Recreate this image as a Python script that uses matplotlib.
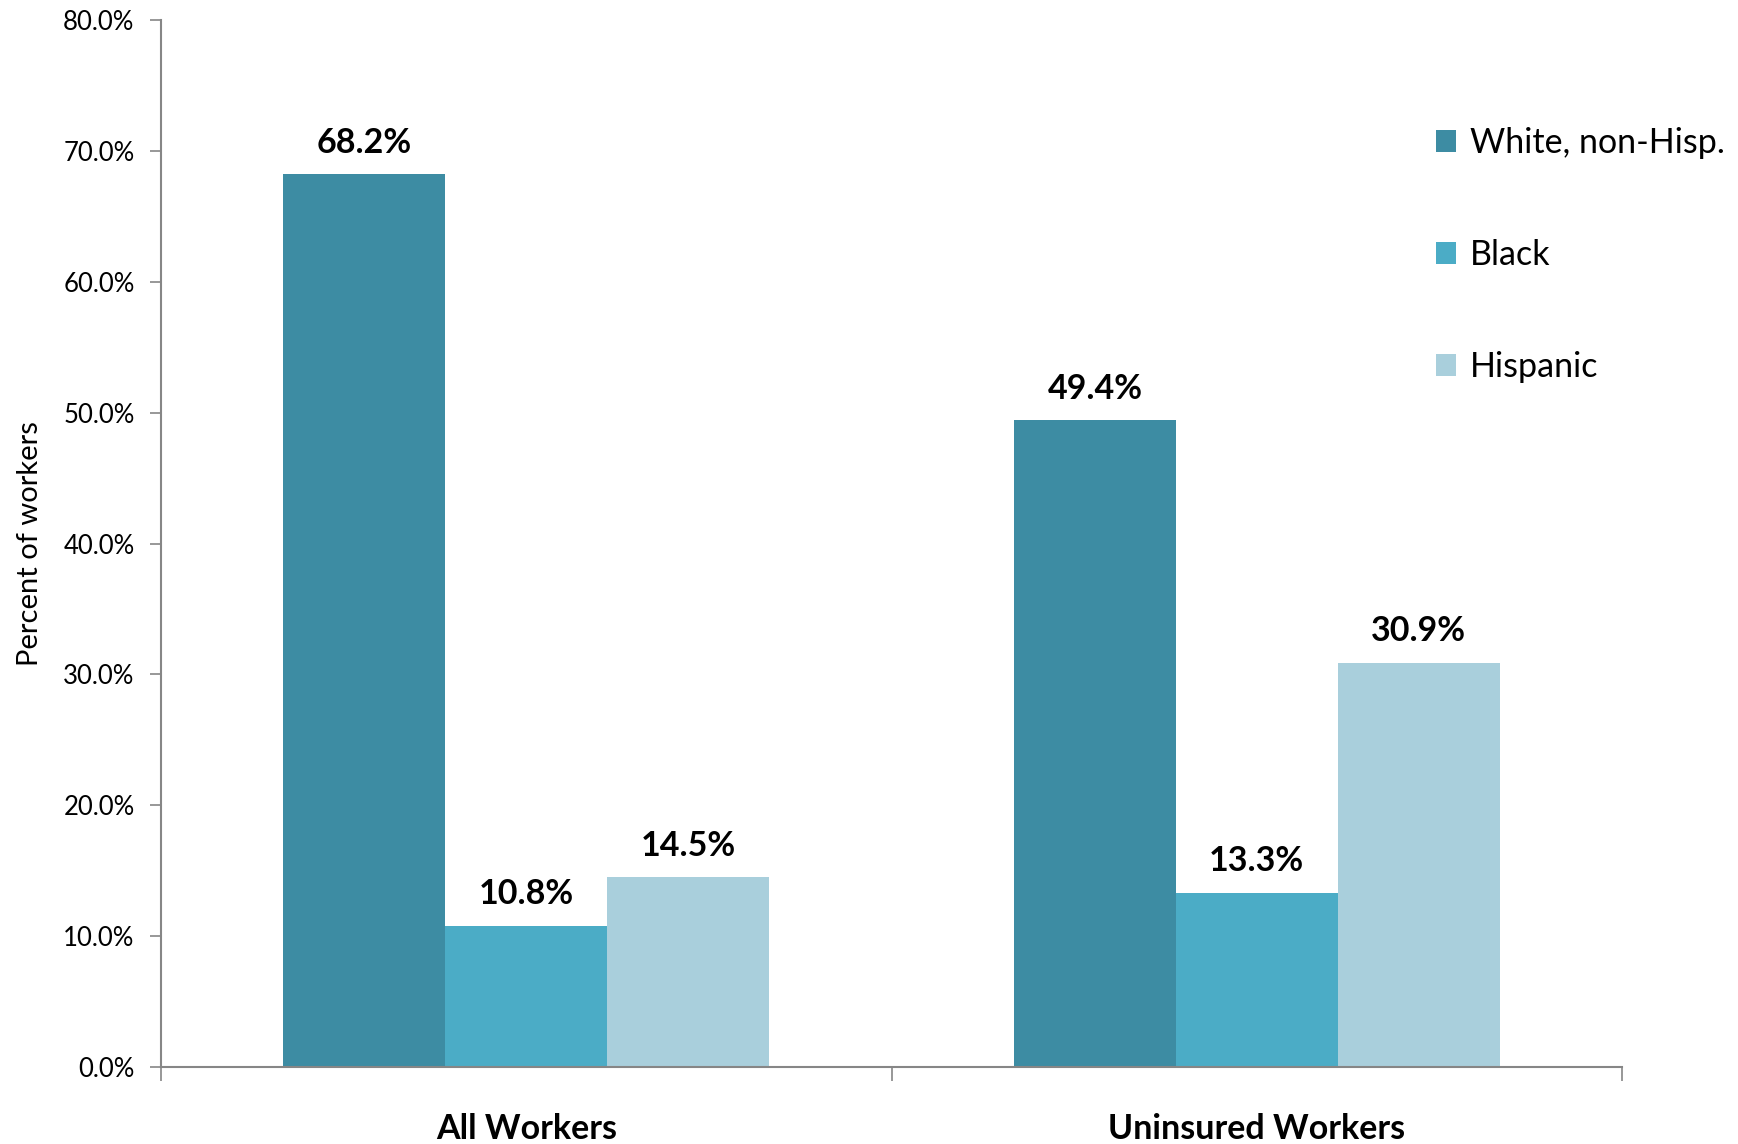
import matplotlib
matplotlib.use('Agg')
import matplotlib.pyplot as plt
import numpy as np
from matplotlib.ticker import FixedLocator, PercentFormatter

plt.rcParams['font.family'] = ['Lato', 'DejaVu Sans']

categories = ['All Workers', 'Uninsured Workers']
series = ['White, non-Hisp.', 'Black', 'Hispanic']
white = [68.2, 49.4]
black = [10.8, 13.3]
hispanic = [14.5, 30.9]
colors = ['#3D8CA3', '#4BACC6', '#A9CFDC']

fig = plt.figure(figsize=(17.38, 11.44), dpi=100)
ax = fig.add_axes([0.0926, 0.0673, 0.9333 - 0.0926, 0.9825 - 0.0673])

x = np.arange(len(categories))
w = 0.2216
for k, (vals, c, name) in enumerate(zip([white, black, hispanic], colors, series)):
    pos = x + (k - 1) * w
    bars = ax.bar(pos, vals, w, color=c, label=name)
    for xi, v in zip(pos, vals):
        ax.text(xi, v + 1.2, '%.1f%%' % v, ha='center', va='bottom',
                fontsize=24.5, fontweight='bold')

ax.set_xlim(-0.5, 1.5)
ax.set_ylim(0, 80)
ax.yaxis.set_major_locator(FixedLocator(np.arange(0, 80.1, 10)))
ax.yaxis.set_major_formatter(PercentFormatter(decimals=1))
ax.set_xticks([-0.5, 0.5, 1.5])
ax.set_xticklabels(['', '', ''])
ax.set_xticks(x, minor=True)
ax.set_xticklabels(categories, minor=True, fontsize=24.5, fontweight='bold')
ax.tick_params(axis='x', which='minor', length=0, pad=33)
ax.tick_params(axis='x', which='major', length=10, color='#868686', width=1.2)
ax.tick_params(axis='y', length=8, color='#868686', width=1.2, labelsize=18.5, pad=11)

for s in ['top', 'right']:
    ax.spines[s].set_visible(False)
for s in ['left', 'bottom']:
    ax.spines[s].set_color('#868686')
    ax.spines[s].set_linewidth(1.5)

ax.set_ylabel('Percent of workers', fontsize=21)
ax.yaxis.set_label_coords(-0.081, 0.5)

leg = ax.legend(loc='upper left', bbox_to_anchor=(1436 / 1738, 1 - 127 / 1144),
                bbox_transform=fig.transFigure, frameon=False, fontsize=24.5,
                handlelength=0.6, handleheight=0.6, handletextpad=0.4,
                labelspacing=2.35, borderaxespad=0, borderpad=0)

fig.savefig('out.png', dpi=100)
